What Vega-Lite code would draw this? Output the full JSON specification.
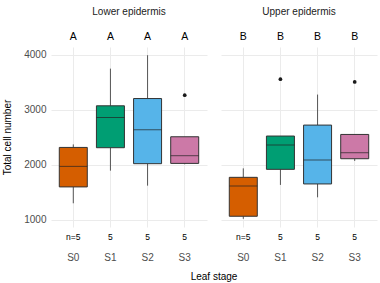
{
  "$schema": "https://vega.github.io/schema/vega-lite/v6.json",
  "padding": {"left": 2, "top": 7, "right": 2, "bottom": 0},
  "background": "white",
  "bounds": "flush",
  "config": {
    "font": "Liberation Sans",
    "view": {"stroke": null},
    "axis": {"domain": false, "ticks": false, "labelFont": "Liberation Sans", "titleFont": "Liberation Sans"}
  },
  "data": {
    "values": [
      {"side": "Lower epidermis", "stage": "S0", "value": 1301},
      {"side": "Lower epidermis", "stage": "S0", "value": 1598},
      {"side": "Lower epidermis", "stage": "S0", "value": 1971},
      {"side": "Lower epidermis", "stage": "S0", "value": 2315},
      {"side": "Lower epidermis", "stage": "S0", "value": 2370},
      {"side": "Lower epidermis", "stage": "S1", "value": 1893},
      {"side": "Lower epidermis", "stage": "S1", "value": 2310},
      {"side": "Lower epidermis", "stage": "S1", "value": 2859},
      {"side": "Lower epidermis", "stage": "S1", "value": 3071},
      {"side": "Lower epidermis", "stage": "S1", "value": 3746},
      {"side": "Lower epidermis", "stage": "S2", "value": 1621},
      {"side": "Lower epidermis", "stage": "S2", "value": 2020},
      {"side": "Lower epidermis", "stage": "S2", "value": 2636},
      {"side": "Lower epidermis", "stage": "S2", "value": 3203},
      {"side": "Lower epidermis", "stage": "S2", "value": 3990},
      {"side": "Lower epidermis", "stage": "S3", "value": 2010},
      {"side": "Lower epidermis", "stage": "S3", "value": 2025},
      {"side": "Lower epidermis", "stage": "S3", "value": 2165},
      {"side": "Lower epidermis", "stage": "S3", "value": 2509},
      {"side": "Lower epidermis", "stage": "S3", "value": 3264},
      {"side": "Upper epidermis", "stage": "S0", "value": 1018},
      {"side": "Upper epidermis", "stage": "S0", "value": 1065},
      {"side": "Upper epidermis", "stage": "S0", "value": 1616},
      {"side": "Upper epidermis", "stage": "S0", "value": 1772},
      {"side": "Upper epidermis", "stage": "S0", "value": 1935},
      {"side": "Upper epidermis", "stage": "S1", "value": 1634},
      {"side": "Upper epidermis", "stage": "S1", "value": 1917},
      {"side": "Upper epidermis", "stage": "S1", "value": 2359},
      {"side": "Upper epidermis", "stage": "S1", "value": 2522},
      {"side": "Upper epidermis", "stage": "S1", "value": 3554},
      {"side": "Upper epidermis", "stage": "S2", "value": 1409},
      {"side": "Upper epidermis", "stage": "S2", "value": 1652},
      {"side": "Upper epidermis", "stage": "S2", "value": 2087},
      {"side": "Upper epidermis", "stage": "S2", "value": 2721},
      {"side": "Upper epidermis", "stage": "S2", "value": 3275},
      {"side": "Upper epidermis", "stage": "S3", "value": 2070},
      {"side": "Upper epidermis", "stage": "S3", "value": 2110},
      {"side": "Upper epidermis", "stage": "S3", "value": 2219},
      {"side": "Upper epidermis", "stage": "S3", "value": 2551},
      {"side": "Upper epidermis", "stage": "S3", "value": 3505},
      {"side": "Lower epidermis", "stage": "S0", "letter": "A", "n": "n=5"},
      {"side": "Lower epidermis", "stage": "S1", "letter": "A", "n": "5"},
      {"side": "Lower epidermis", "stage": "S2", "letter": "A", "n": "5"},
      {"side": "Lower epidermis", "stage": "S3", "letter": "A", "n": "5"},
      {"side": "Upper epidermis", "stage": "S0", "letter": "B", "n": "n=5"},
      {"side": "Upper epidermis", "stage": "S1", "letter": "B", "n": "5"},
      {"side": "Upper epidermis", "stage": "S2", "letter": "B", "n": "5"},
      {"side": "Upper epidermis", "stage": "S3", "letter": "B", "n": "5"}
    ]
  },
  "facet": {
    "column": {
      "field": "side",
      "type": "nominal",
      "title": "Leaf stage",
      "header": {
        "labelOrient": "top",
        "titleOrient": "bottom",
        "labelFont": "Liberation Sans",
        "labelFontSize": 10,
        "labelColor": "#1A1A1A",
        "labelPadding": 30,
        "titleFont": "Liberation Sans",
        "titleFontSize": 10,
        "titleFontWeight": "normal",
        "titleColor": "#000000",
        "titlePadding": 0
      }
    }
  },
  "spacing": 14,
  "resolve": {"scale": {"x": "shared", "y": "shared"}},
  "spec": {
    "width": 156,
    "height": 180,
    "encoding": {
      "x": {
        "field": "stage",
        "type": "nominal",
        "sort": ["S0", "S1", "S2", "S3"],
        "scale": {"paddingInner": 0, "paddingOuter": 0.1},
        "axis": {
          "title": null,
          "labelAngle": 0,
          "labelFontSize": 10,
          "labelColor": "#4D4D4D",
          "labelPadding": 25,
          "grid": true,
          "bandPosition": 0.5,
          "gridColor": "#EBEBEB",
          "gridWidth": 1
        }
      }
    },
    "layer": [
      {
        "transform": [{"filter": "isValid(datum.value)"}],
        "mark": {
          "type": "boxplot",
          "extent": 1.5,
          "size": 28,
          "outliers": false,
          "box": {"stroke": "#333333", "strokeWidth": 1},
          "median": {"color": "#222222", "strokeWidth": 1.6},
          "rule": {"color": "#555555", "strokeWidth": 1}
        },
        "encoding": {
          "y": {
            "field": "value",
            "type": "quantitative",
            "title": "Total cell number",
            "scale": {"domain": [870, 4139], "nice": false, "zero": false},
            "axis": {
              "values": [1000, 1500, 2000, 2500, 3000, 3500, 4000],
              "labelExpr": "datum.value % 1000 === 0 ? datum.label : ''",
              "format": "d",
              "labelFontSize": 10,
              "labelColor": "#4D4D4D",
              "labelPadding": 5,
              "titleFontSize": 10,
              "titleFontWeight": "normal",
              "titleColor": "#000000",
              "titlePadding": 11,
              "gridColor": "#EBEBEB",
              "gridWidth": {"condition": {"test": "datum.value % 1000 === 0", "value": 1}, "value": 0.5}
            }
          },
          "color": {
            "field": "stage",
            "type": "nominal",
            "scale": {"domain": ["S0", "S1", "S2", "S3"], "range": ["#D55E00", "#009E73", "#56B4E9", "#CC79A7"]},
            "legend": null
          }
        }
      },
      {
        "transform": [
          {"filter": "isValid(datum.value)"},
          {
            "joinaggregate": [
              {"op": "q1", "field": "value", "as": "lower_q"},
              {"op": "q3", "field": "value", "as": "upper_q"}
            ],
            "groupby": ["side", "stage"]
          },
          {"filter": "datum.value > datum.upper_q + 1.5 * (datum.upper_q - datum.lower_q) || datum.value < datum.lower_q - 1.5 * (datum.upper_q - datum.lower_q)"}
        ],
        "mark": {"type": "point", "filled": true, "color": "#1A1A1A", "size": 14, "opacity": 1},
        "encoding": {
          "y": {"field": "value", "type": "quantitative"}
        }
      },
      {
        "transform": [{"filter": "isValid(datum.letter)"}],
        "mark": {"type": "text", "fontSize": 10.5, "color": "#000000", "dy": -10, "baseline": "middle"},
        "encoding": {
          "y": {"datum": 4139, "type": "quantitative"},
          "text": {"field": "letter"}
        }
      },
      {
        "transform": [{"filter": "isValid(datum.n)"}],
        "mark": {"type": "text", "fontSize": 8.5, "color": "#000000", "dy": 10, "baseline": "middle"},
        "encoding": {
          "y": {"datum": 870, "type": "quantitative"},
          "text": {"field": "n"}
        }
      }
    ]
  }
}
